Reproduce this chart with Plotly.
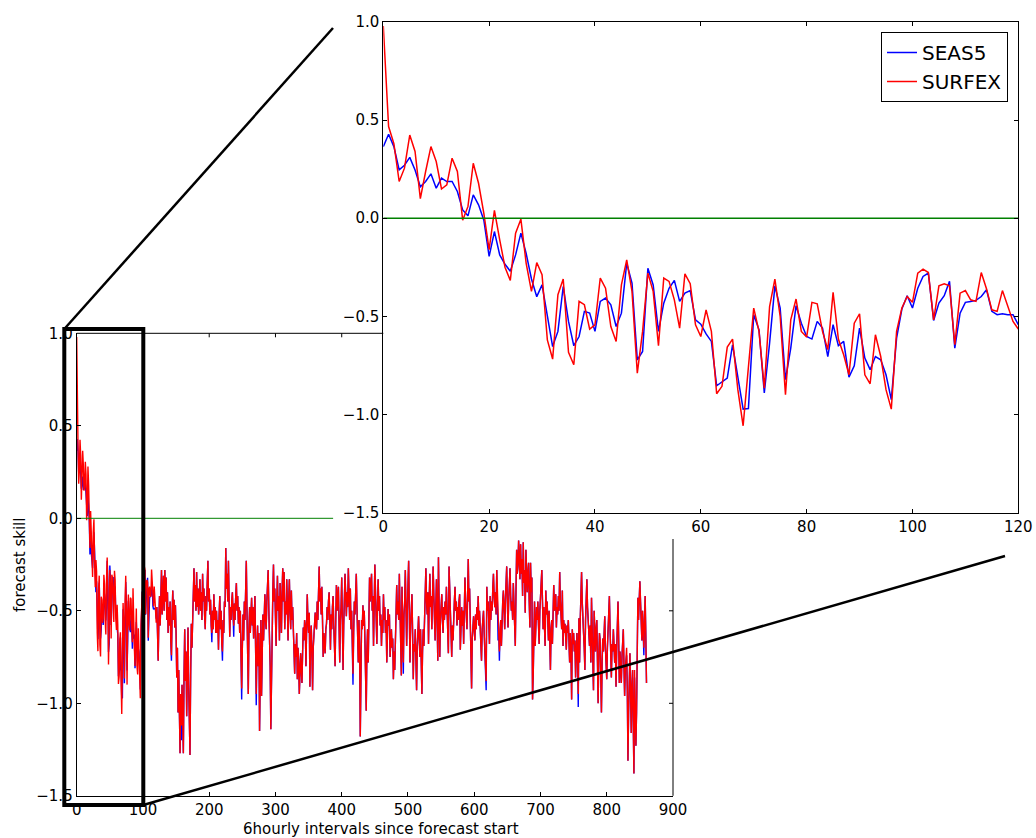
import plotly.graph_objects as go

W, H = 1036, 838

# ---------------- data (forecast skill per 6-hourly step) ----------------
surfex = [
    0.98, 0.467, 0.38, 0.187, 0.255, 0.424, 0.34, 0.10, 0.238, 0.365,
    0.289, 0.149, 0.17, 0.306, 0.238, -0.01, 0.06, 0.28, 0.178, 0.025,
    -0.16, 0.04, -0.11, -0.25, -0.317, -0.076, -0.005, -0.23, -0.373, -0.226,
    -0.288, -0.62, -0.718, -0.39, -0.31, -0.684, -0.747, -0.424, -0.441, -0.565,
    -0.543, -0.305, -0.357, -0.552, -0.628, -0.34, -0.212, -0.373, -0.79, -0.577,
    -0.28, -0.373, -0.65, -0.305, -0.322, -0.416, -0.56, -0.284, -0.334, -0.543,
    -0.603, -0.467, -0.577, -0.895, -0.857, -0.657, -0.616, -0.874, -1.058, -0.755,
    -0.458, -0.577, -0.866, -0.45, -0.31, -0.50, -0.899, -0.518, -0.412, -0.577,
    -0.606, -0.429, -0.436, -0.577, -0.67, -0.378, -0.616, -0.696, -0.798, -0.535,
    -0.487, -0.798, -0.844, -0.594, -0.705, -0.874, -0.973, -0.577, -0.458, -0.399,
    -0.429, -0.28, -0.26, -0.277, -0.518, -0.345, -0.334, -0.345, -0.645, -0.382,
    -0.369, -0.416, -0.424, -0.277, -0.361, -0.467, -0.475, -0.369, -0.45, -0.526,
    -0.565,
    -0.48, -0.62, -0.77, -0.55, -0.42, -0.58, -0.45, -0.28, -0.52, -0.40,
    -0.31, -0.50, -0.28, -0.45, -0.32, -0.55, -0.40, -0.62, -0.48, -0.58,
    -0.45, -0.66, -0.74, -0.52, -0.39, -0.55, -0.44, -0.59, -0.47, -0.62,
    -0.86, -0.70, -1.05, -0.82, -1.10, -1.27, -0.95, -1.12, -0.90, -1.12,
    -1.27, -0.85, -0.60, -0.88, -0.72, -1.07, -0.80, -0.59, -0.90, -1.05,
    -1.28, -0.85, -0.57, -0.70, -0.48, -0.40, -0.27, -0.45, -0.36, -0.50,
    -0.29, -0.48, -0.38, -0.52, -0.42, -0.33, -0.50, -0.40, -0.55, -0.30,
    -0.45, -0.38, -0.52, -0.60, -0.42, -0.50, -0.35, -0.23, -0.45, -0.38,
    -0.52, -0.44, -0.58, -0.62, -0.50, -0.60, -0.41, -0.55, -0.48, -0.62,
    -0.50, -0.62, -0.55, -0.71, -0.52, -0.42, -0.60, -0.50, -0.68, -0.72,
    -0.55, -0.62, -0.45, -0.48, -0.16, -0.38, -0.30, -0.45, -0.23, -0.42,
    -0.64, -0.48, -0.55, -0.45, -0.40, -0.52, -0.58, -0.46, -0.55, -0.42,
    -0.35, -0.50, -0.42, -0.57, -0.48, -0.62, -0.50, -0.75, -0.92, -0.70,
    -0.52, -0.66, -0.45, -0.55, -0.38, -0.23, -0.50, -0.72, -0.95, -0.60,
    -0.48, -0.62, -0.52, -0.43, -0.58, -0.48, -0.65, -0.55, -0.42, -0.70,
    -0.95, -0.72, -0.58, -0.80, -0.62, -1.15, -0.75, -0.55, -0.96, -0.65,
    -0.52, -0.66, -0.48, -0.41, -0.55, -0.60, -0.45, -0.38, -0.28, -0.50,
    -0.62, -0.80, -1.14, -0.82, -0.50, -0.40, -0.25, -0.45, -0.38, -0.55,
    -0.69, -0.45, -0.31, -0.50, -0.42, -0.66, -0.35, -0.48, -0.62, -0.40,
    -0.27, -0.45, -0.29, -0.60, -0.45, -0.52, -0.33, -0.48, -0.66, -0.45,
    -0.33, -0.50, -0.60, -0.39, -0.55, -0.48, -0.62, -0.70, -0.84, -0.68,
    -0.75, -0.62, -0.87, -0.70, -0.78, -0.95, -0.80, -0.73, -0.82, -0.89,
    -0.72, -0.59, -0.66, -0.55, -0.58, -0.80, -0.60, -0.41, -0.55, -0.62,
    -0.51, -0.91, -0.68, -0.58, -0.72, -0.93, -0.70, -0.62, -0.55, -0.51,
    -0.58, -0.60, -0.45, -0.55, -0.40, -0.26, -0.45, -0.38, -0.52, -0.37,
    -0.55, -0.75, -0.62, -0.68, -0.73, -0.60, -0.57, -0.48, -0.55, -0.45,
    -0.40, -0.55, -0.71, -0.52, -0.60, -0.48, -0.42, -0.58, -0.65, -0.80,
    -0.55, -0.36, -0.50, -0.45, -0.37, -0.58, -0.78, -0.55, -0.48, -0.32,
    -0.55, -0.82, -0.58, -0.45, -0.30, -0.42, -0.53, -0.40, -0.48, -0.27,
    -0.42, -0.55, -0.38, -0.60, -0.50, -0.68, -0.84, -0.62, -0.45, -0.52,
    -0.40, -0.30, -0.48, -0.58, -0.78, -0.55, -0.70, -1.18, -0.75, -0.55,
    -0.60, -0.47, -0.58, -0.50, -0.66, -0.80, -1.04, -0.72, -0.60, -0.78,
    -0.52, -0.32, -0.45, -0.38, -0.30, -0.50, -0.42, -0.69, -0.45, -0.25,
    -0.40, -0.55, -0.68, -0.48, -0.33, -0.50, -0.42, -0.58, -0.52, -0.69,
    -0.55, -0.62, -0.41, -0.55, -0.48, -0.62, -0.55, -0.78, -0.60, -0.49,
    -0.58, -0.52, -0.75, -0.62, -0.60, -0.70, -0.65, -0.87, -0.72, -0.82,
    -0.58, -0.48, -0.36, -0.52, -0.45, -0.55, -0.30, -0.50, -0.62, -0.85,
    -0.37, -0.55, -0.78, -0.52, -0.45, -0.28, -0.48, -0.69, -0.50, -0.40,
    -0.23, -0.50, -0.78, -0.58, -0.50, -0.41, -0.62, -0.87, -0.68, -0.72,
    -0.60, -0.78, -0.93, -0.70, -0.62, -0.53, -0.65, -0.75, -0.60, -0.72,
    -0.95, -0.72, -0.60, -0.69, -0.50, -0.40, -0.27, -0.45, -0.52, -0.40,
    -0.68, -0.45, -0.30, -0.48, -0.42, -0.60, -0.45, -0.26, -0.42, -0.50,
    -0.66, -0.48, -0.33, -0.55, -0.77, -0.21, -0.45, -0.75, -0.55, -0.48,
    -0.41, -0.55, -0.62, -0.48, -0.55, -0.45, -0.52, -0.37, -0.50, -0.58,
    -0.73, -0.26, -0.45, -0.52, -0.62, -0.75, -0.58, -0.66, -0.50, -0.45,
    -0.37, -0.50, -0.45, -0.58, -0.48, -0.55, -0.45, -0.41, -0.71, -0.55,
    -0.48, -0.58, -0.50, -0.68, -0.48, -0.32, -0.45, -0.52, -0.60, -0.42,
    -0.22, -0.45, -0.38, -0.55, -0.68, -0.92, -0.65, -0.58, -0.53, -0.60,
    -0.66, -0.52, -0.60, -0.48, -0.55, -0.42, -0.58, -0.50, -0.62, -0.70,
    -0.77, -0.60, -0.55, -0.50, -0.62, -0.70, -0.80, -0.88, -0.37, -0.50,
    -0.45, -0.58, -0.68, -0.42, -0.55, -0.45, -0.50, -0.38, -0.30, -0.42,
    -0.48, -0.40, -0.52, -0.28, -0.45, -0.55, -0.62, -0.72, -0.60, -0.55,
    -0.69, -0.50, -0.45, -0.39, -0.52, -0.60, -0.45, -0.38, -0.26, -0.45,
    -0.59, -0.45, -0.38, -0.27, -0.42, -0.50, -0.45, -0.55, -0.35, -0.48,
    -0.55, -0.69, -0.40, -0.17, -0.30, -0.25, -0.12, -0.28, -0.33, -0.14,
    -0.30, -0.22, -0.42, -0.13, -0.35, -0.28, -0.51, -0.17, -0.32, -0.40,
    -0.30, -0.24, -0.45, -0.59, -0.24, -0.40, -0.32, -0.98, -0.85, -0.55,
    -0.45, -0.69, -0.55, -0.48, -0.55, -0.45, -0.58, -0.68, -0.50, -0.42,
    -0.38, -0.28, -0.45, -0.60, -0.48, -0.55, -0.69, -0.39, -0.52, -0.45,
    -0.55, -0.66, -0.50, -0.62, -0.82, -0.60, -0.55, -0.68, -0.48, -0.36,
    -0.50, -0.45, -0.41, -0.59, -0.48, -0.52, -0.42, -0.50, -0.29, -0.45,
    -0.52, -0.60, -0.39, -0.69, -0.55, -0.62, -0.57, -0.65, -0.71, -0.58,
    -0.62, -0.55, -0.66, -0.78, -0.62, -0.72, -0.98, -0.60, -0.68, -0.62,
    -0.72, -0.66, -0.86, -0.70, -0.62, -0.75, -0.95, -0.54, -0.78, -0.55,
    -0.45, -0.29, -0.45, -0.51, -0.62, -0.70, -0.82, -0.55, -0.45, -0.33,
    -0.48, -0.55, -0.62, -0.69, -0.58, -0.78, -0.43, -0.62, -0.72, -0.93,
    -0.50, -0.65, -0.72, -0.60, -0.55, -0.78, -1.00, -0.75, -0.62, -0.66,
    -0.80, -1.05, -0.78, -0.65, -0.72, -0.60, -0.53, -0.70, -0.78, -0.87,
    -0.70, -0.62, -0.55, -0.42, -0.60, -0.72, -0.86, -0.68, -0.72, -0.60,
    -0.70, -0.78, -0.68, -0.91, -0.72, -0.58, -0.45, -0.65, -0.89, -0.72,
    -0.78, -0.89, -0.75, -0.68, -0.60, -0.80, -0.96, -0.82, -0.75, -0.70,
    -0.92, -1.31, -1.05, -0.85, -0.73, -0.95, -1.16, -0.90, -0.82, -1.10,
    -1.38, -0.82, -1.00, -1.23, -1.05, -0.82, -0.43, -0.55, -0.48, -0.34,
    -0.45, -0.52, -0.66, -0.50, -0.58, -0.70, -0.55, -0.42, -0.65, -0.89,
]

seas5 = [
    0.365, 0.428, 0.365, 0.246, 0.27, 0.31, 0.246, 0.16, 0.187, 0.226,
    0.153, 0.204, 0.187, 0.187, 0.136, 0.042, 0.012, 0.119, 0.068, -0.01,
    -0.195, -0.068, -0.187, -0.235, -0.27, -0.187, -0.076, -0.18, -0.31, -0.40,
    -0.34, -0.50, -0.654, -0.577, -0.348, -0.526, -0.65, -0.603, -0.475, -0.484,
    -0.577, -0.424, -0.407, -0.441, -0.552, -0.484, -0.229, -0.331, -0.722, -0.679,
    -0.255, -0.34, -0.577, -0.433, -0.357, -0.317, -0.424, -0.382, -0.369, -0.518,
    -0.54, -0.59, -0.628, -0.854, -0.832, -0.815, -0.645, -0.798, -0.973, -0.97,
    -0.492, -0.569, -0.891, -0.637, -0.345, -0.458, -0.823, -0.662, -0.446, -0.535,
    -0.603, -0.616, -0.526, -0.56, -0.705, -0.543, -0.65, -0.628, -0.81, -0.752,
    -0.56, -0.713, -0.772, -0.705, -0.722, -0.798, -0.925, -0.611, -0.463, -0.395,
    -0.458, -0.357, -0.297, -0.28, -0.521, -0.433, -0.395, -0.322, -0.662, -0.484,
    -0.429, -0.424, -0.419, -0.399, -0.365, -0.475, -0.492, -0.487, -0.492, -0.492,
    -0.543,
    -0.48, -0.62, -0.77, -0.55, -0.42, -0.58, -0.45, -0.28, -0.52, -0.40,
    -0.31, -0.50, -0.28, -0.45, -0.32, -0.55, -0.40, -0.62, -0.48, -0.58,
    -0.45, -0.66, -0.77, -0.52, -0.39, -0.55, -0.44, -0.59, -0.47, -0.62,
    -0.86, -0.70, -1.05, -0.82, -1.10, -1.27, -0.95, -1.20, -0.90, -1.12,
    -1.27, -0.85, -0.60, -0.88, -0.72, -1.07, -0.80, -0.59, -0.90, -1.05,
    -1.28, -0.85, -0.57, -0.70, -0.48, -0.40, -0.27, -0.45, -0.36, -0.50,
    -0.29, -0.48, -0.38, -0.52, -0.42, -0.33, -0.50, -0.40, -0.55, -0.30,
    -0.45, -0.38, -0.52, -0.60, -0.42, -0.50, -0.35, -0.23, -0.45, -0.38,
    -0.52, -0.44, -0.58, -0.67, -0.50, -0.60, -0.41, -0.55, -0.48, -0.62,
    -0.50, -0.62, -0.55, -0.71, -0.52, -0.42, -0.60, -0.50, -0.68, -0.77,
    -0.55, -0.62, -0.45, -0.48, -0.16, -0.38, -0.30, -0.45, -0.23, -0.42,
    -0.64, -0.48, -0.55, -0.45, -0.40, -0.52, -0.64, -0.46, -0.55, -0.42,
    -0.35, -0.50, -0.42, -0.57, -0.48, -0.62, -0.50, -0.75, -0.98, -0.70,
    -0.52, -0.66, -0.45, -0.55, -0.38, -0.23, -0.50, -0.72, -0.95, -0.60,
    -0.48, -0.62, -0.52, -0.43, -0.58, -0.48, -0.65, -0.55, -0.42, -0.70,
    -1.01, -0.72, -0.58, -0.80, -0.62, -1.15, -0.75, -0.55, -0.96, -0.65,
    -0.52, -0.66, -0.48, -0.41, -0.55, -0.60, -0.45, -0.38, -0.28, -0.50,
    -0.62, -0.80, -1.14, -0.82, -0.50, -0.40, -0.25, -0.45, -0.38, -0.55,
    -0.69, -0.45, -0.31, -0.50, -0.42, -0.66, -0.35, -0.48, -0.62, -0.40,
    -0.27, -0.45, -0.29, -0.60, -0.45, -0.52, -0.33, -0.48, -0.66, -0.45,
    -0.33, -0.50, -0.60, -0.39, -0.55, -0.48, -0.62, -0.70, -0.84, -0.68,
    -0.75, -0.62, -0.87, -0.70, -0.78, -0.95, -0.80, -0.73, -0.82, -0.89,
    -0.72, -0.59, -0.66, -0.55, -0.58, -0.80, -0.60, -0.41, -0.55, -0.62,
    -0.51, -0.91, -0.68, -0.58, -0.72, -0.93, -0.70, -0.62, -0.55, -0.51,
    -0.58, -0.60, -0.45, -0.55, -0.40, -0.26, -0.45, -0.38, -0.52, -0.37,
    -0.55, -0.75, -0.62, -0.68, -0.73, -0.60, -0.57, -0.48, -0.55, -0.45,
    -0.40, -0.55, -0.71, -0.52, -0.60, -0.48, -0.42, -0.58, -0.65, -0.80,
    -0.55, -0.36, -0.50, -0.45, -0.37, -0.58, -0.78, -0.55, -0.48, -0.32,
    -0.55, -0.82, -0.58, -0.45, -0.30, -0.42, -0.53, -0.40, -0.48, -0.27,
    -0.42, -0.55, -0.38, -0.60, -0.50, -0.68, -0.90, -0.62, -0.45, -0.52,
    -0.40, -0.30, -0.48, -0.58, -0.78, -0.55, -0.70, -1.18, -0.75, -0.55,
    -0.60, -0.47, -0.58, -0.50, -0.66, -0.80, -1.04, -0.72, -0.60, -0.78,
    -0.52, -0.32, -0.45, -0.38, -0.30, -0.50, -0.42, -0.69, -0.45, -0.25,
    -0.40, -0.55, -0.68, -0.48, -0.33, -0.50, -0.42, -0.58, -0.52, -0.69,
    -0.55, -0.62, -0.41, -0.55, -0.48, -0.62, -0.55, -0.78, -0.60, -0.49,
    -0.58, -0.52, -0.75, -0.62, -0.60, -0.70, -0.65, -0.87, -0.72, -0.82,
    -0.58, -0.48, -0.36, -0.52, -0.45, -0.55, -0.30, -0.50, -0.62, -0.85,
    -0.37, -0.55, -0.84, -0.52, -0.45, -0.28, -0.48, -0.69, -0.50, -0.40,
    -0.23, -0.50, -0.78, -0.58, -0.50, -0.41, -0.62, -0.87, -0.68, -0.72,
    -0.60, -0.78, -0.93, -0.70, -0.62, -0.53, -0.65, -0.75, -0.60, -0.72,
    -0.95, -0.72, -0.60, -0.69, -0.50, -0.40, -0.27, -0.45, -0.52, -0.40,
    -0.68, -0.45, -0.30, -0.48, -0.42, -0.60, -0.45, -0.26, -0.42, -0.50,
    -0.66, -0.48, -0.33, -0.55, -0.77, -0.21, -0.45, -0.75, -0.55, -0.48,
    -0.41, -0.55, -0.62, -0.48, -0.55, -0.45, -0.52, -0.37, -0.50, -0.58,
    -0.73, -0.26, -0.45, -0.52, -0.62, -0.75, -0.58, -0.66, -0.50, -0.45,
    -0.37, -0.50, -0.45, -0.58, -0.48, -0.55, -0.45, -0.41, -0.71, -0.55,
    -0.48, -0.58, -0.50, -0.68, -0.48, -0.32, -0.45, -0.52, -0.60, -0.42,
    -0.22, -0.45, -0.38, -0.55, -0.68, -0.92, -0.65, -0.58, -0.53, -0.60,
    -0.66, -0.52, -0.60, -0.48, -0.55, -0.42, -0.58, -0.50, -0.62, -0.70,
    -0.77, -0.60, -0.55, -0.50, -0.62, -0.70, -0.80, -0.93, -0.37, -0.50,
    -0.45, -0.58, -0.68, -0.42, -0.55, -0.45, -0.50, -0.38, -0.30, -0.42,
    -0.48, -0.40, -0.52, -0.28, -0.45, -0.66, -0.62, -0.77, -0.60, -0.55,
    -0.69, -0.50, -0.45, -0.39, -0.52, -0.60, -0.45, -0.38, -0.26, -0.45,
    -0.59, -0.45, -0.38, -0.27, -0.42, -0.50, -0.45, -0.55, -0.35, -0.48,
    -0.55, -0.69, -0.40, -0.17, -0.30, -0.25, -0.12, -0.28, -0.33, -0.14,
    -0.30, -0.22, -0.42, -0.13, -0.35, -0.28, -0.51, -0.17, -0.32, -0.40,
    -0.30, -0.24, -0.45, -0.59, -0.24, -0.40, -0.32, -0.98, -0.85, -0.55,
    -0.45, -0.69, -0.55, -0.48, -0.55, -0.45, -0.58, -0.68, -0.50, -0.42,
    -0.38, -0.28, -0.45, -0.60, -0.48, -0.55, -0.69, -0.39, -0.52, -0.45,
    -0.55, -0.66, -0.50, -0.62, -0.82, -0.60, -0.55, -0.68, -0.48, -0.36,
    -0.50, -0.45, -0.41, -0.59, -0.48, -0.52, -0.42, -0.50, -0.29, -0.45,
    -0.52, -0.60, -0.39, -0.69, -0.55, -0.62, -0.57, -0.65, -0.71, -0.58,
    -0.62, -0.55, -0.66, -0.78, -0.62, -0.72, -0.98, -0.60, -0.68, -0.62,
    -0.72, -0.66, -0.86, -0.70, -0.62, -0.75, -1.02, -0.54, -0.78, -0.55,
    -0.45, -0.29, -0.45, -0.51, -0.62, -0.70, -0.82, -0.55, -0.45, -0.33,
    -0.48, -0.55, -0.62, -0.69, -0.58, -0.78, -0.43, -0.62, -0.72, -0.93,
    -0.50, -0.65, -0.72, -0.60, -0.55, -0.78, -1.00, -0.75, -0.62, -0.66,
    -0.80, -1.05, -0.78, -0.65, -0.72, -0.60, -0.53, -0.70, -0.78, -0.87,
    -0.70, -0.62, -0.55, -0.42, -0.60, -0.72, -0.86, -0.68, -0.72, -0.60,
    -0.70, -0.78, -0.68, -0.91, -0.72, -0.58, -0.45, -0.65, -0.89, -0.72,
    -0.78, -0.89, -0.75, -0.68, -0.60, -0.80, -0.96, -0.82, -0.75, -0.74,
    -0.92, -1.31, -1.05, -0.85, -0.73, -0.95, -1.16, -0.90, -0.82, -1.10,
    -1.38, -0.86, -1.00, -1.23, -1.05, -0.82, -0.43, -0.55, -0.48, -0.34,
    -0.45, -0.52, -0.66, -0.50, -0.58, -0.74, -0.55, -0.42, -0.65, -0.89,
]

steps = list(range(len(surfex)))
inset_count = 121                     # steps 0..120 shown in the zoomed panel
main_zero_end = 387                   # the main panel's zero line stops here

main_xticks = [0, 100, 200, 300, 400, 500, 600, 700, 800, 900]
inset_xticks = [0, 20, 40, 60, 80, 100, 120]
skill_ticks = [1.0, 0.5, 0.0, -0.5, -1.0, -1.5]

# ---------------- geometry (pixels in the 1036x838 page) ----------------
def fx(p):
    return p / W

def fy(p):
    return 1 - p / H

MAIN_L, MAIN_R, MAIN_T, MAIN_B = 76.7, 673.0, 333.3, 795.8
INS_L, INS_R, INS_T, INS_B = 383.3, 1018.3, 22.0, 512.5

FONT = "DejaVu Sans"
RED, BLUE, GREEN = "#ff0000", "#0000ff", "#008000"

fig = go.Figure()

# main panel
fig.add_trace(go.Scatter(x=steps, y=seas5, mode="lines", line=dict(color=BLUE, width=1.4),
                         xaxis="x", yaxis="y", showlegend=False, hoverinfo="skip"))
fig.add_trace(go.Scatter(x=steps, y=surfex, mode="lines", line=dict(color=RED, width=1.4),
                         xaxis="x", yaxis="y", showlegend=False, hoverinfo="skip"))
fig.add_trace(go.Scatter(x=[0, main_zero_end], y=[0, 0], mode="lines",
                         line=dict(color=GREEN, width=1), xaxis="x", yaxis="y",
                         showlegend=False, hoverinfo="skip"))

# inset panel
fig.add_trace(go.Scatter(x=steps[:inset_count], y=seas5[:inset_count], mode="lines",
                         name="SEAS5", line=dict(color=BLUE, width=1.5),
                         xaxis="x2", yaxis="y2"))
fig.add_trace(go.Scatter(x=steps[:inset_count], y=surfex[:inset_count], mode="lines",
                         name="SURFEX", line=dict(color=RED, width=1.5),
                         xaxis="x2", yaxis="y2"))
fig.add_trace(go.Scatter(x=[0, inset_count - 1], y=[0, 0], mode="lines",
                         line=dict(color=GREEN, width=1.5), xaxis="x2", yaxis="y2",
                         showlegend=False, hoverinfo="skip"))

axis_common = dict(showgrid=False, zeroline=False, ticks="inside", ticklen=4,
                   tickcolor="black", linecolor="black", linewidth=1, showline=True,
                   automargin=False, tickfont=dict(family=FONT, size=15, color="black"))

fig.update_layout(
    width=W, height=H, autosize=False,
    margin=dict(l=0, r=0, t=0, b=0, pad=0),
    paper_bgcolor="white", plot_bgcolor="white",
    font=dict(family=FONT, color="black"),
    xaxis=dict(domain=[fx(MAIN_L), fx(MAIN_R)], range=[0, 900], anchor="y",
               tickvals=main_xticks, **axis_common),
    yaxis=dict(domain=[fy(MAIN_B), fy(MAIN_T)], range=[-1.5, 1.0], anchor="x",
               tickvals=skill_ticks, tickformat=".1f", **axis_common),
    xaxis2=dict(domain=[fx(INS_L), fx(INS_R)], range=[0, 120], anchor="y2",
                tickvals=inset_xticks, mirror="ticks", **axis_common),
    yaxis2=dict(domain=[fy(INS_B), fy(INS_T)], range=[-1.5, 1.0], anchor="x2",
                tickvals=skill_ticks, tickformat=".1f", mirror="ticks", **axis_common),
    legend=dict(x=fx(1008), xanchor="right", y=fy(32), yanchor="top",
                bgcolor="white", bordercolor="black", borderwidth=1,
                font=dict(family=FONT, size=20, color="black"),
                itemwidth=30, tracegroupgap=0),
)

shapes = []
# partial top and right spines of the main panel (rest hidden behind the inset)
top_frac = (INS_L - MAIN_L) / (MAIN_R - MAIN_L)
right_frac = (MAIN_B - 539) / (MAIN_B - MAIN_T)
shapes.append(dict(type="line", xref="x domain", yref="y domain", x0=0, x1=top_frac,
                   y0=1, y1=1, line=dict(color="black", width=1)))
shapes.append(dict(type="line", xref="x domain", yref="y domain", x0=1, x1=1,
                   y0=0, y1=right_frac, line=dict(color="black", width=1)))
for v in [-0.5, -1.0]:
    shapes.append(dict(type="line", xref="x domain", yref="y", x0=1,
                       x1=1 - 4 / (MAIN_R - MAIN_L), y0=v, y1=v,
                       line=dict(color="black", width=1)))
for v in [100, 200, 300, 400]:
    shapes.append(dict(type="line", xref="x", yref="y domain", x0=v, x1=v, y0=1,
                       y1=1 - 4 / (MAIN_B - MAIN_T), line=dict(color="black", width=1)))
# zoom box and connector lines
shapes.append(dict(type="rect", xref="paper", yref="paper",
                   x0=fx(64.3), x1=fx(143.3), y0=fy(805), y1=fy(329),
                   line=dict(color="black", width=4), fillcolor="rgba(0,0,0,0)"))
shapes.append(dict(type="line", xref="paper", yref="paper",
                   x0=fx(64.3), y0=fy(329), x1=fx(333), y1=fy(28),
                   line=dict(color="black", width=2.5)))
shapes.append(dict(type="line", xref="paper", yref="paper",
                   x0=fx(143.3), y0=fy(805), x1=fx(1005), y1=fy(556),
                   line=dict(color="black", width=2.5)))
fig.update_layout(shapes=shapes)

fig.add_annotation(text="6hourly intervals since forecast start", xref="paper", yref="paper",
                   x=fx(381), y=fy(829), xanchor="center", yanchor="middle",
                   showarrow=False, font=dict(family=FONT, size=15, color="black"))
fig.add_annotation(text="forecast skill", xref="paper", yref="paper",
                   x=fx(20), y=fy(565), xanchor="center", yanchor="middle",
                   textangle=-90, showarrow=False,
                   font=dict(family=FONT, size=15, color="black"))

fig.write_html("out.html")
